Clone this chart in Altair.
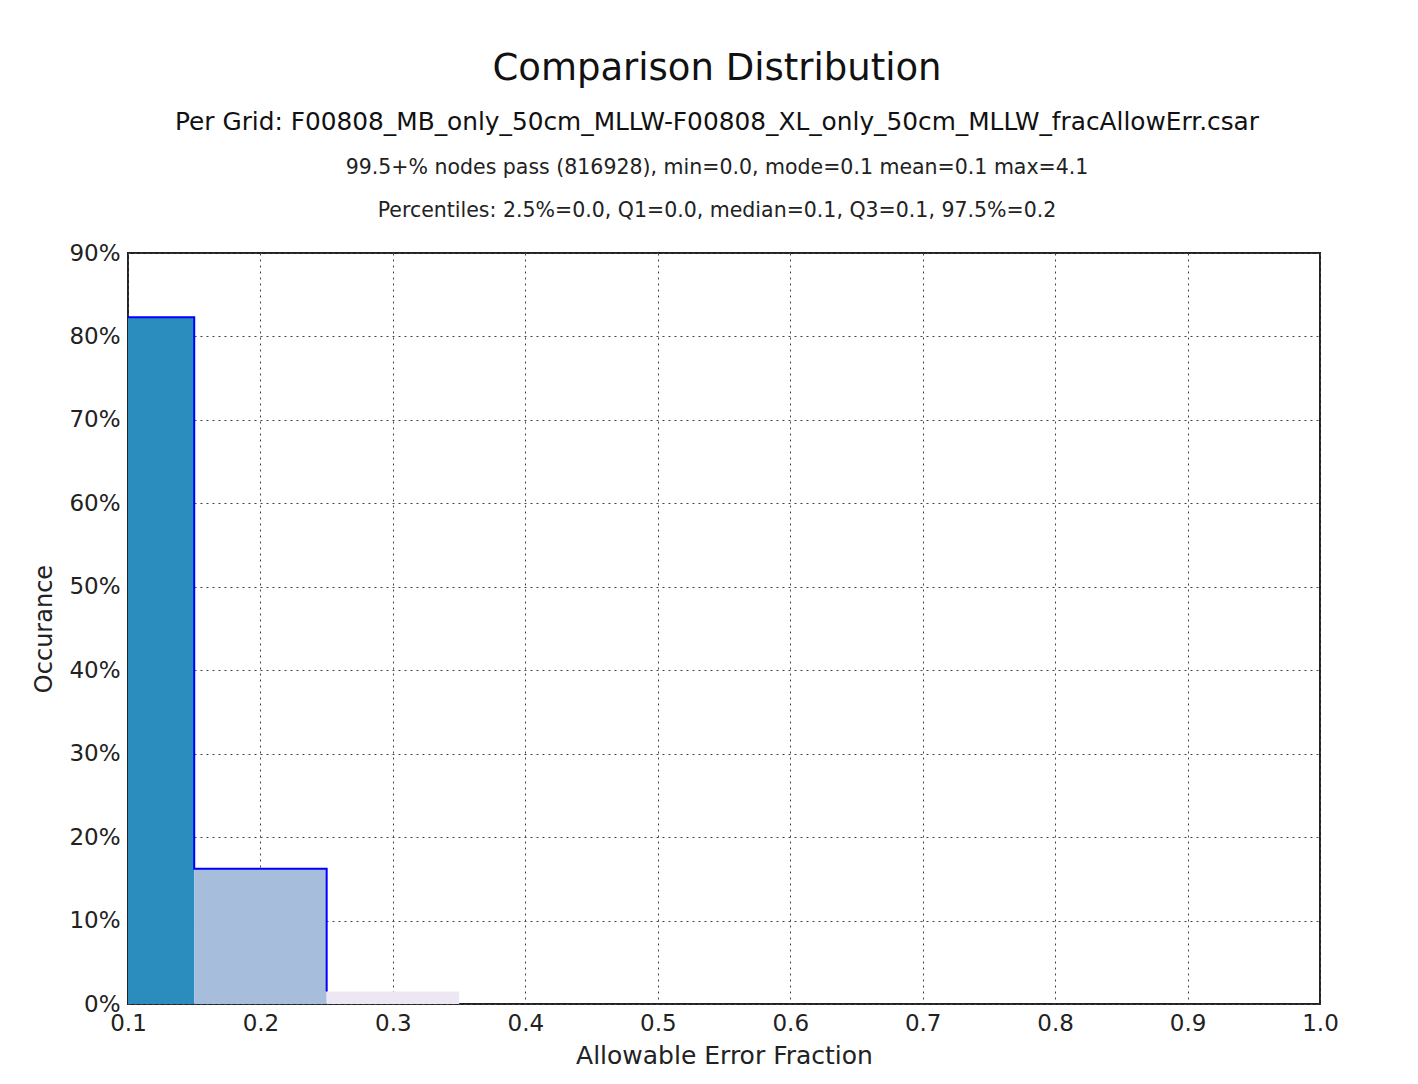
import altair as alt
import pandas as pd

bin_start = [0.05, 0.15, 0.25]
bin_end = [0.15, 0.25, 0.35]
occurance = [0.823, 0.162, 0.015]
bar_colors = ["#2b8cbe", "#a6bddb", "#ece7f2"]
x_ticks = [0.1, 0.2, 0.3, 0.4, 0.5, 0.6, 0.7, 0.8, 0.9, 1.0]
y_ticks = [0.0, 0.1, 0.2, 0.3, 0.4, 0.5, 0.6, 0.7, 0.8, 0.9]

title_text = "Comparison Distribution"
subtitle_text = "Per Grid: F00808_MB_only_50cm_MLLW-F00808_XL_only_50cm_MLLW_fracAllowErr.csar"
stats_line = "99.5+% nodes pass (816928), min=0.0, mode=0.1 mean=0.1 max=4.1"
pct_line = "Percentiles: 2.5%=0.0, Q1=0.0, median=0.1, Q3=0.1, 97.5%=0.2"

df = pd.DataFrame({"start": bin_start, "end": bin_end, "occ": occurance, "color": bar_colors})

W, H = 1192, 751
FONT = "DejaVu Sans"

xscale = alt.Scale(domain=[0.1, 1.0], nice=False, zero=False)
yscale = alt.Scale(domain=[0, 0.9], nice=False)

xaxis = alt.Axis(values=x_ticks, format=".1f", title="Allowable Error Fraction",
                 grid=True, gridDash=[2, 4], gridColor="#444444", gridWidth=1,
                 ticks=False, labelPadding=8, labelFontSize=23, titleFontSize=25,
                 titleFontWeight="normal", titlePadding=8, labelColor="#222222",
                 titleColor="#222222", domain=False, labelFlush=False)
yaxis = alt.Axis(values=y_ticks, format=".0%", title="Occurance",
                 grid=True, gridDash=[2, 4], gridColor="#444444", gridWidth=1,
                 ticks=False, labelPadding=8, labelFontSize=23, titleFontSize=24,
                 titleFontWeight="normal", titlePadding=12, labelColor="#222222",
                 titleColor="#222222", domain=False, labelFlush=False)

bars = alt.Chart(df).mark_rect(clip=True).encode(
    x=alt.X("start:Q", scale=xscale, axis=xaxis),
    x2="end:Q",
    y=alt.Y("occ:Q", scale=yscale, axis=yaxis),
    y2=alt.datum(0),
    color=alt.Color("color:N", scale=None),
)

outline = alt.Chart(df).mark_line(interpolate="step-after", color="#0000ff",
                                  strokeWidth=2, clip=True).encode(
    x=alt.X("start:Q", scale=xscale),
    y=alt.Y("occ:Q", scale=yscale),
)

lines_df = pd.DataFrame({"t": [stats_line, pct_line], "yy": [-85, -42]})
text_lines = alt.Chart(lines_df).mark_text(fontSize=20.5, font=FONT, color="#222222",
                                           baseline="middle", align="center").encode(
    text="t:N",
    x=alt.value(W / 2 - 7),
    y=alt.Y("yy:Q", scale=None),
)

chart = alt.layer(bars, outline, text_lines).properties(
    width=W, height=H,
    title=alt.TitleParams(title_text, subtitle=[subtitle_text], fontSize=37,
                          fontWeight="normal", font=FONT, subtitleFont=FONT,
                          subtitleFontSize=24.8, subtitleColor="#111111", color="#111111",
                          subtitlePadding=22, offset=22, anchor="middle", dx=-7),
    padding={"left": 24, "top": 42, "right": 20, "bottom": 0},
).configure(font=FONT).configure_view(stroke="#222222", strokeWidth=2)

chart.save("out.html", embed_options={"renderer": "svg", "actions": False})
